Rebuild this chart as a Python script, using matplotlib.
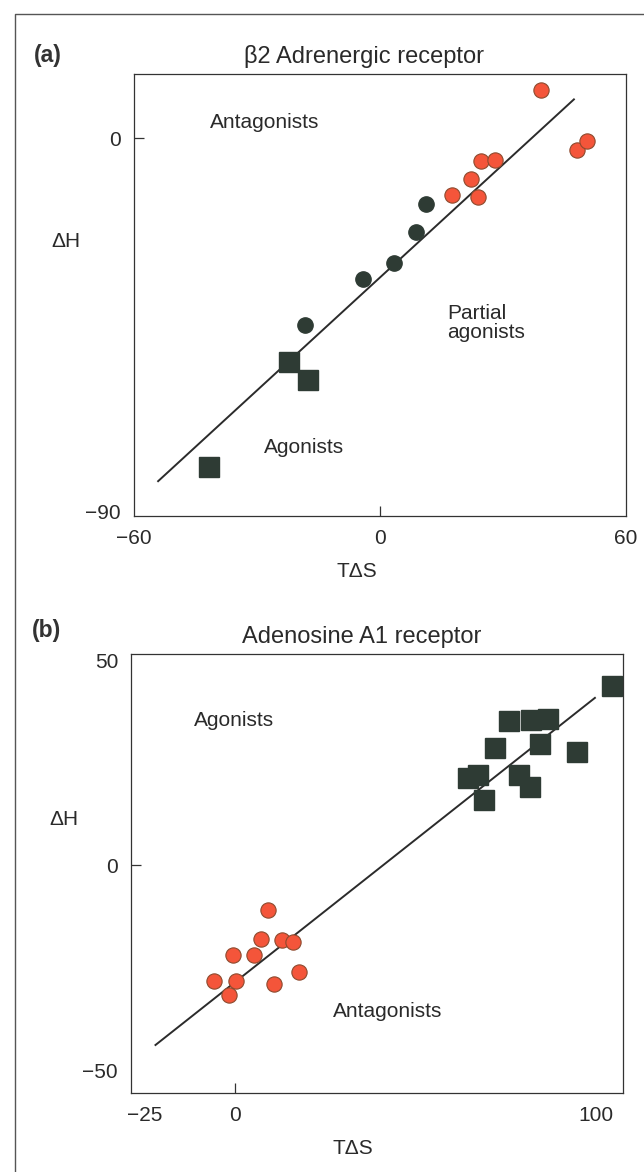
import matplotlib.pyplot as plt
from matplotlib.lines import Line2D

plt.rcParams['font.family'] = ['Liberation Sans', 'DejaVu Sans']

RED = '#f4553a'
RED_EDGE = '#8c4a2e'
DARK = '#2e3b34'
TXT = '#2a2a2a'

# (a) beta2 adrenergic receptor
a_antag_x = [39.2, 48.0, 50.5, 24.7, 28.0, 22.2, 17.7, 24.0]
a_antag_y = [11.7, -2.8, -0.7, -5.5, -5.1, -9.7, -13.7, -14.2]
a_partial_x = [11.3, 8.8, 3.5, -4.2, -18.2]
a_partial_y = [-15.8, -22.5, -30.0, -34.0, -45.0]
a_agon_x = [-22.2, -17.5, -41.7]
a_agon_y = [-53.9, -58.1, -79.1]
a_fit_x = [-54.0, 47.3]
a_fit_y = [-82.6, 9.4]

# (b) adenosine A1 receptor
b_antag_x = [9.0, 7.3, 13.1, 16.1, -0.7, 5.2, 17.7, -5.8, 0.1, 10.8, -1.8]
b_antag_y = [-10.8, -18.0, -18.2, -18.8, -21.9, -21.9, -25.9, -28.1, -28.1, -29.0, -31.6]
b_agon_x = [104.6, 76.1, 82.1, 86.9, 72.1, 84.6, 94.9, 64.7, 67.5, 78.7, 81.8, 68.9]
b_agon_y = [43.7, 35.1, 35.3, 35.6, 28.6, 29.5, 27.7, 21.3, 22.1, 22.0, 19.1, 15.9]
b_fit_x = [-22.1, 99.8]
b_fit_y = [-43.8, 40.8]

fig = plt.figure(figsize=(6.44, 11.72), dpi=100)

# frame round the figure
fig.add_artist(Line2D([0.0233, 0.0233, 1.01], [-0.01, 0.988, 0.988],
                      transform=fig.transFigure, color='#555555', lw=1.0))


def lab(t):
    return '\u2212' + str(-t) if t < 0 else str(t)


def style(ax, xticks, yticks):
    for s in ax.spines.values():
        s.set_color('#333333')
        s.set_linewidth(0.9)
    ax.set_xticks(xticks)
    ax.set_yticks(yticks)
    ax.set_xticklabels([lab(t) for t in xticks])
    ax.set_yticklabels([lab(t) for t in yticks])
    # only the zero ticks carry a visible mark
    ax.xaxis.remove_overlapping_locs = False
    ax.yaxis.remove_overlapping_locs = False
    ax.set_xticks([0], minor=True)
    ax.set_yticks([0], minor=True)
    ax.tick_params(which='major', length=0, labelsize=15, labelcolor=TXT)
    ax.tick_params(which='minor', direction='in', length=7, width=0.9,
                   color='#333333')
    ax.tick_params(axis='x', which='major', pad=9)
    ax.tick_params(axis='y', which='major', pad=9)


# panel a
ax1 = fig.add_axes([0.2073, 0.5597, 0.7648, 0.3771])
ax1.plot(a_fit_x, a_fit_y, color='#2b2b2b', lw=1.4, zorder=2)
ax1.plot(a_antag_x, a_antag_y, 'o', ms=11, mfc=RED, mec=RED_EDGE, mew=0.8, zorder=3)
ax1.plot(a_partial_x, a_partial_y, 'o', ms=11, mfc=DARK, mec=DARK, zorder=3)
ax1.plot(a_agon_x, a_agon_y, 's', ms=15, mfc=DARK, mec=DARK, zorder=3)
ax1.set_xlim(-60, 60)
ax1.set_ylim(-91, 15.5)
style(ax1, [-60, 0, 60], [-90, 0])
ax1.text(-41.3, 3.8, 'Antagonists', fontsize=15, color=TXT, va='center')
ax1.text(16.4, -44.5, 'Partial\nagonists', fontsize=15, color=TXT, va='center',
         linespacing=1.05)
ax1.text(-28.3, -74.5, 'Agonists', fontsize=15, color=TXT, va='center')
ax1.set_title('\u03b22 Adrenergic receptor', fontsize=17, color=TXT, pad=8, x=0.468)
ax1.set_xlabel('T\u0394S', fontsize=15, color=TXT)
ax1.xaxis.set_label_coords(0.454, -0.104)
ax1.set_ylabel('\u0394H', fontsize=15, color=TXT, rotation=0, va='center')
ax1.yaxis.set_label_coords(-0.137, 0.622)
fig.text(0.052, 0.953, '(a)', fontsize=16.5, fontweight='bold', color='#333333',
         va='center')

# panel b
ax2 = fig.add_axes([0.2028, 0.0674, 0.7652, 0.3746])
ax2.plot(b_fit_x, b_fit_y, color='#2b2b2b', lw=1.4, zorder=2)
ax2.plot(b_antag_x, b_antag_y, 'o', ms=11, mfc=RED, mec=RED_EDGE, mew=0.8, zorder=3)
ax2.plot(b_agon_x, b_agon_y, 's', ms=15, mfc=DARK, mec=DARK, zorder=3)
ax2.set_xlim(-29, 107.7)
ax2.set_ylim(-55.5, 51.5)
style(ax2, [-25, 0, 100], [-50, 0, 50])
ax2.text(-11.4, 35.3, 'Agonists', fontsize=15, color=TXT, va='center')
ax2.text(27, -35.6, 'Antagonists', fontsize=15, color=TXT, va='center')
ax2.set_title('Adenosine A1 receptor', fontsize=17, color=TXT, pad=8, x=0.469)
ax2.set_xlabel('T\u0394S', fontsize=15, color=TXT)
ax2.xaxis.set_label_coords(0.451, -0.105)
ax2.set_ylabel('\u0394H', fontsize=15, color=TXT, rotation=0, va='center')
ax2.yaxis.set_label_coords(-0.135, 0.624)
fig.text(0.050, 0.462, '(b)', fontsize=16.5, fontweight='bold', color='#333333',
         va='center')

fig.savefig('out.png', dpi=100)
